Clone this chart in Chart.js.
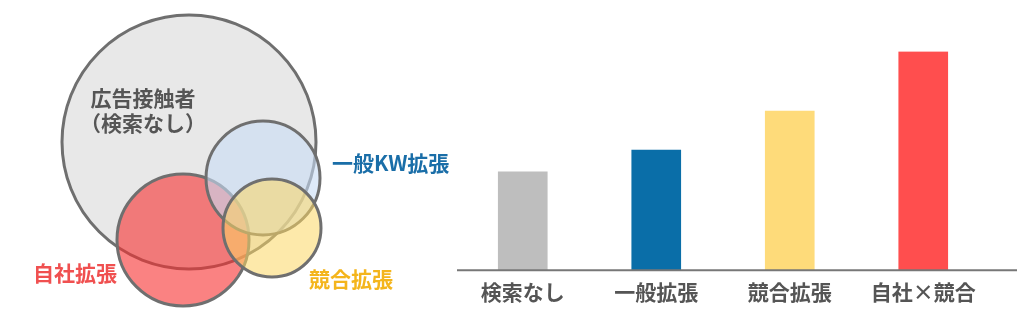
<!DOCTYPE html>
<html>
<head>
<meta charset="utf-8">
<script src="https://cdn.jsdelivr.net/npm/chart.js@4"></script>
<style>
  body { margin: 0; background: #fff; }
  #venn { position: absolute; left: 0; top: 0; }
  #bars { position: absolute; left: 440px; top: 0; }
</style>
</head>
<body>
<canvas id="venn" width="460" height="331"></canvas>
<canvas id="bars" width="596" height="331"></canvas>
<script>
// venn circles (centre + radius), drawn back to front
const vennNames = ['広告接触者', '自社拡張', '一般KW拡張', '競合拡張'];
const vennX = [189, 183, 263, 272];
const vennY = [142, 240, 178, 228];
const vennR = [127, 66, 57, 49];

// bar chart
const categories = ['検索なし', '一般拡張', '競合拡張', '自社×競合'];
const values = [97.5, 119, 157.5, 216.5];

const jpFont = "'Noto Sans CJK JP', 'Noto Sans', sans-serif";

const vennPoints = vennX.map((x, i) => ({ x: x, y: vennY[i], r: vennR[i] }));

// labels next to the circles
const vennText = {
    id: 'vennText',
    afterDatasetsDraw(chart, args, opts) {
        const ctx = chart.ctx;
        const sx = chart.scales.x;
        const sy = chart.scales.y;
        ctx.save();
        ctx.font = 'bold 21px ' + jpFont;
        ctx.textBaseline = 'middle';
        opts.items.forEach(item => {
            ctx.fillStyle = item.color;
            ctx.textAlign = item.align;
            item.lines.forEach((line, j) => {
                ctx.fillText(line, sx.getPixelForValue(item.x), sy.getPixelForValue(item.y + j * 25));
            });
        });
        ctx.restore();
    }
};

new Chart(document.getElementById('venn'), {
    type: 'bubble',
    data: {
        datasets: [{
            data: vennPoints,
            backgroundColor: ['#e8e8e8', 'rgba(247,47,47,0.6)', 'rgba(200,220,245,0.6)', 'rgba(252,215,100,0.55)'],
            borderColor: '#6f6f6f',
            borderWidth: 3,
            clip: false
        }]
    },
    options: {
        responsive: false,
        animation: false,
        events: [],
        layout: { padding: 0, autoPadding: false },
        scales: {
            x: { type: 'linear', min: 0, max: 460, display: false },
            y: { type: 'linear', min: 0, max: 331, reverse: true, display: false }
        },
        plugins: {
            legend: { display: false },
            tooltip: { enabled: false },
            vennText: {
                items: [
                    { lines: [vennNames[0], '（検索なし）'], x: 143, y: 98, color: '#555555', align: 'center' },
                    { lines: [vennNames[2]], x: 332, y: 163, color: '#1a6ea8', align: 'left' },
                    { lines: [vennNames[1]], x: 75, y: 273, color: '#f05050', align: 'center' },
                    { lines: [vennNames[3]], x: 351, y: 279, color: '#f4b51c', align: 'center' }
                ]
            }
        }
    },
    plugins: [vennText]
});

// long grey base line under the bars
const baseLine = {
    id: 'baseLine',
    afterDatasetsDraw(chart) {
        const ctx = chart.ctx;
        const y0 = chart.scales.y.getPixelForValue(0);
        ctx.save();
        ctx.strokeStyle = '#777777';
        ctx.lineWidth = 2;
        ctx.beginPath();
        ctx.moveTo(chart.chartArea.left + 1, y0);
        ctx.lineTo(chart.width - 19, y0);
        ctx.stroke();
        ctx.restore();
    }
};

new Chart(document.getElementById('bars'), {
    type: 'bar',
    data: {
        labels: categories,
        datasets: [{
            data: values,
            backgroundColor: ['#bebebe', '#0a6ea8', '#fedb7a', '#ff4e4e'],
            borderWidth: 0,
            barThickness: 49
        }]
    },
    options: {
        responsive: false,
        animation: false,
        events: [],
        layout: { padding: { left: 16, right: 46, top: 51.5, bottom: 16.5 } },
        scales: {
            x: {
                grid: { display: false, drawTicks: false },
                border: { display: false },
                ticks: {
                    color: '#555555',
                    padding: 9.5,
                    font: { family: jpFont, size: 21, weight: 'bold' }
                }
            },
            y: { min: 0, max: 216.5, display: false }
        },
        plugins: {
            legend: { display: false },
            tooltip: { enabled: false }
        }
    },
    plugins: [baseLine]
});
</script>
</body>
</html>
